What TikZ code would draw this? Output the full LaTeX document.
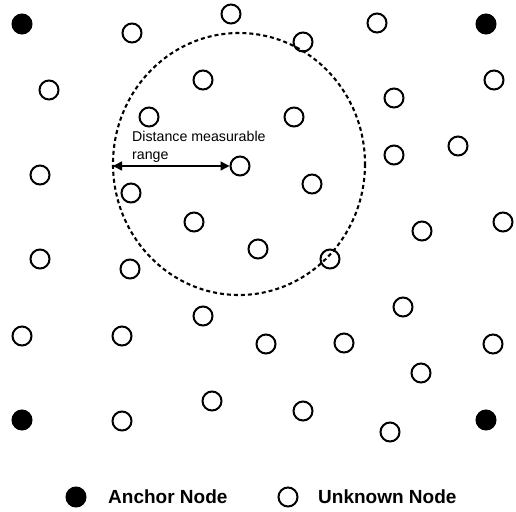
\documentclass[tikz,border=0pt]{standalone}
\usepackage{fontspec}
\setmainfont{Liberation Sans}
\usetikzlibrary{arrows.meta}
\begin{document}
\begin{tikzpicture}[x=1pt,y=-1pt,
  unk/.style={circle,draw=black,line width=2pt,minimum size=19pt,inner sep=0pt,fill=white},
  anc/.style={circle,fill=black,draw=black,line width=2pt,minimum size=19pt,inner sep=0pt},
  rangecirc/.style={draw=black,line width=2.1pt,dash pattern=on 4pt off 3pt},
  legtext/.style={anchor=west,font=\fontsize{19}{22}\selectfont\bfseries,inner sep=0pt},
  smalltext/.style={anchor=base west,font=\fontsize{14.2}{16}\selectfont,inner sep=0pt}]
\useasboundingbox (0,0) rectangle (516,511);
% range circle
\draw[rangecirc] (239,164) ellipse [x radius=126, y radius=131];
% anchors
\node[anc] (a1) at (22,24) {};
\node[anc] (a2) at (486,24) {};
\node[anc] (a3) at (22,420) {};
\node[anc] (a4) at (486,420) {};
% unknown nodes
\node[unk] (u1) at (132,33) {};
\node[unk] (u2) at (231,14) {};
\node[unk] (u3) at (49,90) {};
\node[unk] (u4) at (203,80) {};
\node[unk] (u5) at (149,117) {};
\node[unk] (u6) at (40,175) {};
\node[unk] (u7) at (240,166) {};
\node[unk] (u8) at (131,193) {};
\node[unk] (u9) at (194,222) {};
\node[unk] (u10) at (40,259) {};
\node[unk] (u11) at (377,23) {};
\node[unk] (u12) at (303,42) {};
\node[unk] (u13) at (494,80) {};
\node[unk] (u14) at (394,98) {};
\node[unk] (u15) at (294,117) {};
\node[unk] (u16) at (458,146) {};
\node[unk] (u17) at (394,155) {};
\node[unk] (u18) at (312,184) {};
\node[unk] (u19) at (503,222) {};
\node[unk] (u20) at (422,231) {};
\node[unk] (u21) at (258,249) {};
\node[unk] (u22) at (330,259) {};
\node[unk] (u23) at (130,269) {};
\node[unk] (u24) at (203,316) {};
\node[unk] (u25) at (22,336) {};
\node[unk] (u26) at (122,336) {};
\node[unk] (u27) at (212,401) {};
\node[unk] (u28) at (122,421) {};
\node[unk] (u29) at (403,307) {};
\node[unk] (u30) at (266,344) {};
\node[unk] (u31) at (344,343) {};
\node[unk] (u32) at (493,344) {};
\node[unk] (u33) at (421,373) {};
\node[unk] (u34) at (303,411) {};
\node[unk] (u35) at (390,432) {};
% redraw range circle over the two nodes it crosses
\begin{scope}
\clip (303,42) circle (10pt) (330,259) circle (10pt);
\draw[rangecirc] (239,164) ellipse [x radius=126, y radius=131];
\end{scope}
% distance arrow
\coordinate (rl) at (113,166);
\draw[line width=1.5pt,{Triangle[length=9pt,width=9pt]}-{Triangle[length=9pt,width=9pt]}] (rl) -- (u7);
\node[smalltext] (t1) at (132,141) {Distance measurable};
\node[smalltext] (t2) at (132,159) {range};
% legend
\node[anc] (la) at (76,497) {};
\node[legtext] (lat) at (108,497) {Anchor Node};
\node[unk] (lu) at (288,497) {};
\node[legtext] (lut) at (318,497) {Unknown Node};
\end{tikzpicture}
\end{document}
